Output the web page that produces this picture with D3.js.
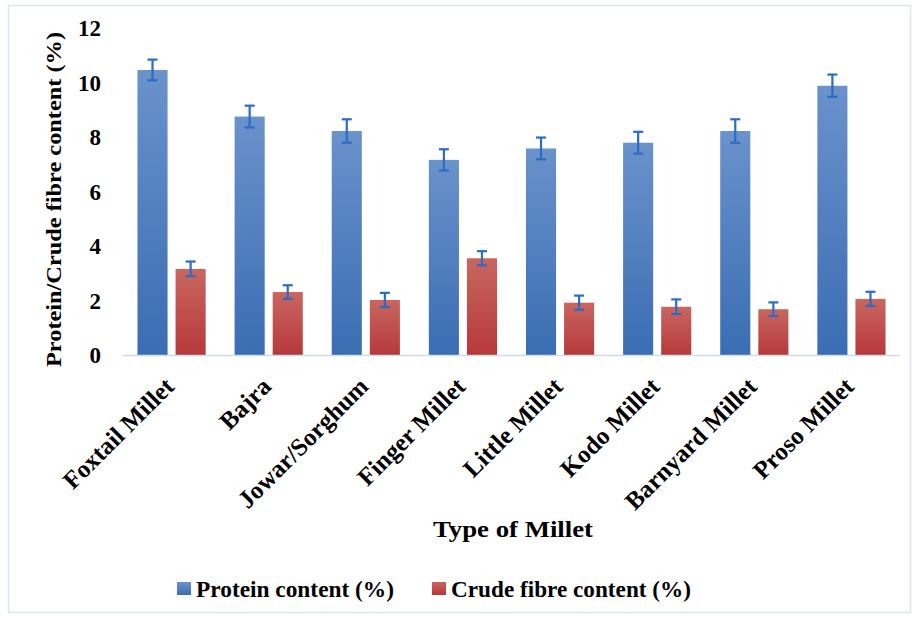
<!DOCTYPE html>
<html lang="en">
<head>
  <meta charset="UTF-8">
  <title>Protein / crude fibre content of millets</title>
  <style>
    body { margin: 0; background: #fff; }
    svg { display: block; }
    text {
      font-family: "Liberation Serif", "DejaVu Serif", serif;
      font-weight: bold;
      fill: #000;
    }
  </style>
</head>
<body>
  <svg id="chart"></svg>

  <script src="https://d3js.org/d3.v7.min.js"></script>
  <script>
    // --- data ---
    const categories = ["Foxtail Millet", "Bajra", "Jowar/Sorghum", "Finger Millet",
                        "Little Millet", "Kodo Millet", "Barnyard Millet", "Proso Millet"];
    const protein    = [10.46, 8.75, 8.22, 7.16, 7.58, 7.79, 8.22, 9.88];
    const proteinErr = [0.38, 0.40, 0.43, 0.39, 0.40, 0.40, 0.43, 0.41];
    const fibre      = [3.16, 2.31, 2.02, 3.55, 1.92, 1.77, 1.68, 2.06];
    const fibreErr   = [0.27, 0.25, 0.26, 0.26, 0.26, 0.27, 0.25, 0.26];
    const seriesNames = ["Protein content (%)", "Crude fibre content (%)"];
    const yTicks = [0, 2, 4, 6, 8, 10, 12];

    const width = 915, height = 618;
    const svg = d3.select("#chart").attr("width", width).attr("height", height);

    // outer frame
    svg.append("rect")
      .attr("x", 8.5).attr("y", 5.5)
      .attr("width", 902).attr("height", 607)
      .attr("fill", "#fff")
      .attr("stroke", "#dbe5f3").attr("stroke-width", 1.5);

    // gradients for bars
    const defs = svg.append("defs");
    function grad(id, top, bottom) {
      const g = defs.append("linearGradient").attr("id", id)
        .attr("x1", 0).attr("y1", 0).attr("x2", 0).attr("y2", 1);
      g.append("stop").attr("offset", "0%").attr("stop-color", top);
      g.append("stop").attr("offset", "100%").attr("stop-color", bottom);
    }
    grad("gBlue", "#6a92cb", "#3a6db3");
    grad("gRed", "#c96660", "#b6393a");
    const fills = ["url(#gBlue)", "url(#gRed)"];

    // scales
    const x0 = d3.scaleBand().domain(categories).range([123, 900]).padding(0);
    const x1 = d3.scaleBand().domain(seriesNames).range([0, x0.bandwidth()])
      .paddingInner(0.21).paddingOuter(0.38);
    const y = d3.scaleLinear().domain([0, 12]).range([355, 28]);

    // y tick labels (no axis line, no gridlines)
    svg.append("g").selectAll("text")
      .data(yTicks)
      .join("text")
      .attr("x", 101)
      .attr("y", d => y(d))
      .attr("dy", "0.35em")
      .attr("text-anchor", "end")
      .attr("font-size", 23)
      .text(d => d);

    // bars
    const rows = categories.map((c, i) => ({
      cat: c,
      vals: [
        { s: seriesNames[0], v: protein[i], e: proteinErr[i], k: 0 },
        { s: seriesNames[1], v: fibre[i], e: fibreErr[i], k: 1 }
      ]
    }));

    const groups = svg.append("g").selectAll("g")
      .data(rows)
      .join("g")
      .attr("transform", d => `translate(${x0(d.cat)},0)`);

    groups.selectAll("rect")
      .data(d => d.vals)
      .join("rect")
      .attr("x", d => x1(d.s))
      .attr("y", d => y(d.v))
      .attr("width", x1.bandwidth())
      .attr("height", d => y(0) - y(d.v))
      .attr("fill", d => fills[d.k]);

    // x axis line
    svg.append("line")
      .attr("x1", x0.range()[0]).attr("x2", x0.range()[1])
      .attr("y1", y(0) + 0.5).attr("y2", y(0) + 0.5)
      .attr("stroke", "#cfdcee").attr("stroke-width", 1.5);

    // error bars
    const eb = groups.selectAll("g.err")
      .data(d => d.vals)
      .join("g")
      .attr("class", "err")
      .attr("stroke", "#2b6cc4")
      .attr("stroke-width", 2.2);
    const cx = d => x1(d.s) + x1.bandwidth() / 2;
    eb.append("line")
      .attr("x1", cx).attr("x2", cx)
      .attr("y1", d => y(d.v + d.e)).attr("y2", d => y(d.v - d.e));
    eb.append("line")
      .attr("x1", d => cx(d) - 5).attr("x2", d => cx(d) + 5)
      .attr("y1", d => y(d.v + d.e)).attr("y2", d => y(d.v + d.e));
    eb.append("line")
      .attr("x1", d => cx(d) - 5).attr("x2", d => cx(d) + 5)
      .attr("y1", d => y(d.v - d.e)).attr("y2", d => y(d.v - d.e));

    // category labels, rotated
    svg.append("g").selectAll("text")
      .data(categories)
      .join("text")
      .attr("font-size", 25)
      .attr("text-anchor", "end")
      .attr("transform", d => `translate(${x0(d) + x0.bandwidth() / 2 + 4},${y(0) + 33}) rotate(-45)`)
      .text(d => d);

    // axis titles
    svg.append("text")
      .attr("font-size", 22)
      .attr("text-anchor", "middle")
      .attr("textLength", 335).attr("lengthAdjust", "spacingAndGlyphs")
      .attr("transform", `translate(53,${(32 + 367) / 2}) rotate(-90)`)
      .attr("dy", "0.35em")
      .text("Protein/Crude fibre content (%)");

    svg.append("text")
      .attr("font-size", 23)
      .attr("text-anchor", "middle")
      .attr("textLength", 160).attr("lengthAdjust", "spacingAndGlyphs")
      .attr("x", 513).attr("y", 537)
      .text("Type of Millet");

    // legend
    const legendX = [177, 432];
    const legendLen = [198, 240];
    const lg = svg.append("g").selectAll("g")
      .data(seriesNames)
      .join("g")
      .attr("transform", (d, i) => `translate(${legendX[i]},582)`);
    lg.append("rect")
      .attr("width", 14).attr("height", 13)
      .attr("fill", (d, i) => fills[i]);
    lg.append("text")
      .attr("x", 19).attr("y", 15)
      .attr("font-size", 23)
      .attr("textLength", (d, i) => legendLen[i]).attr("lengthAdjust", "spacingAndGlyphs")
      .text(d => d);
  </script>
</body>
</html>
